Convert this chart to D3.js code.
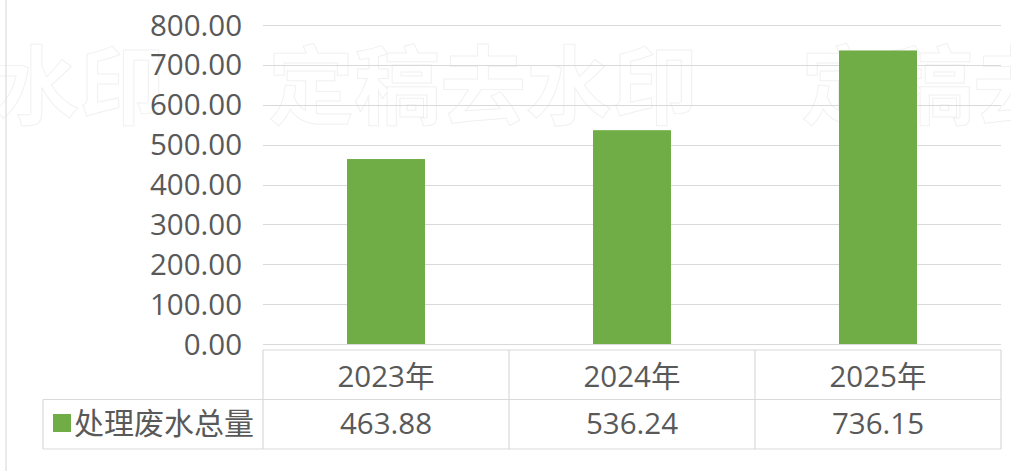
<!DOCTYPE html>
<html>
<head>
<meta charset="utf-8">
<script src="https://cdn.jsdelivr.net/npm/d3@7"></script>
<style>
  html, body { margin: 0; padding: 0; background: #fff; }
  svg { display: block; }
</style>
</head>
<body>
<svg id="chart" width="1011" height="471"></svg>
<script>
// data
var years = ["2023年", "2024年", "2025年"];
var values = [463.88, 536.24, 736.15];
var seriesName = "处理废水总量";
var yTicks = [0, 100, 200, 300, 400, 500, 600, 700, 800];

var width = 1011, height = 471,
    plotLeft = 263, plotRight = 1001,
    plotTop = 25, plotBottom = 344,
    tableTop = 350, rowH = 49.5, legendLeft = 43;

var font = "'Open Sans', 'Noto Sans CJK SC', sans-serif",
    cjkFont = "'Noto Sans CJK SC', sans-serif",
    textColor = "#595959",
    gridColor = "#d9d9d9",
    barColor = "#70ad47";

var svg = d3.select("#chart");

var x = d3.scaleBand()
    .domain(years)
    .range([plotLeft, plotRight])
    .paddingInner(0.683)
    .paddingOuter(0.3415);

var col = d3.scaleBand()
    .domain(years)
    .range([plotLeft, plotRight]);

var y = d3.scaleLinear()
    .domain([0, 800])
    .range([plotBottom, plotTop]);

// faint watermark
var wm = svg.append("g")
    .attr("font-family", cjkFont)
    .attr("font-weight", "bold")
    .attr("font-size", 86)
    .attr("fill", "none")
    .attr("stroke", "#f1f1f1")
    .attr("stroke-width", 1);
[-265, 268, 801].forEach(function(wx) {
  wm.append("text").attr("x", wx).attr("y", 118).text("定稿去水印");
});

// outer frame line on the left
svg.append("line")
    .attr("x1", 6).attr("x2", 6)
    .attr("y1", 0).attr("y2", height)
    .attr("stroke", "#e3e3e3")
    .attr("stroke-width", 1.5);

// gridlines
svg.append("g")
  .selectAll("line")
  .data(yTicks)
  .enter().append("line")
    .attr("x1", plotLeft).attr("x2", plotRight)
    .attr("y1", function(d) { return Math.round(y(d)) + 0.5; })
    .attr("y2", function(d) { return Math.round(y(d)) + 0.5; })
    .attr("stroke", gridColor)
    .attr("stroke-width", 1.2);

// y axis labels
svg.append("g")
  .selectAll("text")
  .data(yTicks)
  .enter().append("text")
    .attr("x", 242)
    .attr("y", function(d) { return y(d); })
    .attr("dy", "0.36em")
    .attr("text-anchor", "end")
    .attr("font-family", font)
    .attr("font-size", 29.5)
    .attr("fill", textColor)
    .text(function(d) { return d3.format(".2f")(d); });

// bars
svg.append("g")
  .selectAll("rect")
  .data(values)
  .enter().append("rect")
    .attr("x", function(d, i) { return x(years[i]); })
    .attr("width", x.bandwidth())
    .attr("y", function(d) { return y(d); })
    .attr("height", function(d) { return y(0) - y(d); })
    .attr("fill", barColor);

// data table
var table = svg.append("g")
    .attr("stroke", gridColor)
    .attr("stroke-width", 1.2)
    .attr("fill", "none");

table.append("line")
    .attr("x1", plotLeft).attr("x2", plotRight)
    .attr("y1", tableTop).attr("y2", tableTop);
table.append("line")
    .attr("x1", legendLeft).attr("x2", plotRight)
    .attr("y1", tableTop + rowH).attr("y2", tableTop + rowH);
table.append("line")
    .attr("x1", legendLeft).attr("x2", plotRight)
    .attr("y1", tableTop + 2 * rowH).attr("y2", tableTop + 2 * rowH);
table.append("line")
    .attr("x1", legendLeft).attr("x2", legendLeft)
    .attr("y1", tableTop + rowH).attr("y2", tableTop + 2 * rowH);
table.selectAll("line.col")
  .data(years.concat(["end"]))
  .enter().append("line")
    .attr("class", "col")
    .attr("x1", function(d) { return d === "end" ? plotRight : col(d); })
    .attr("x2", function(d) { return d === "end" ? plotRight : col(d); })
    .attr("y1", tableTop).attr("y2", tableTop + 2 * rowH);

var cells = svg.append("g")
    .attr("font-family", font)
    .attr("font-size", 29.5)
    .attr("fill", textColor)
    .attr("text-anchor", "middle");

cells.selectAll("text.year")
  .data(years)
  .enter().append("text")
    .attr("class", "year")
    .attr("x", function(d) { return col(d) + col.bandwidth() / 2; })
    .attr("y", tableTop + rowH / 2 + 2)
    .attr("dy", "0.36em")
    .text(function(d) { return d; });

cells.selectAll("text.val")
  .data(values)
  .enter().append("text")
    .attr("class", "val")
    .attr("x", function(d, i) { return col(years[i]) + col.bandwidth() / 2; })
    .attr("y", tableTop + rowH * 1.5 - 1)
    .attr("dy", "0.36em")
    .text(function(d) { return d3.format(".2f")(d); });

// legend key in table
svg.append("rect")
    .attr("x", 53).attr("y", 414)
    .attr("width", 18).attr("height", 18)
    .attr("fill", barColor);
svg.append("text")
    .attr("x", 74)
    .attr("y", tableTop + rowH * 1.5 - 1)
    .attr("dy", "0.36em")
    .attr("font-family", cjkFont)
    .attr("font-size", 30)
    .attr("fill", textColor)
    .text(seriesName);
</script>
</body>
</html>
